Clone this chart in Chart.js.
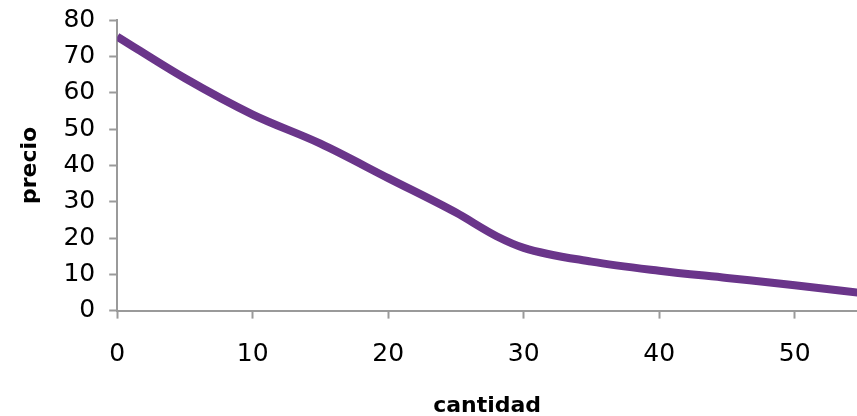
<!DOCTYPE html>
<html>
<head>
<meta charset="utf-8">
<script src="https://cdn.jsdelivr.net/npm/chart.js@4"></script>
<style>
  html, body { margin: 0; padding: 0; background: #fff; }
  #wrap { width: 857px; height: 416px; }
</style>
</head>
<body>
<div id="wrap"><canvas id="chartLine"></canvas></div>
<script>
// Data
const cantidad = [0, 5, 10, 15, 20, 25, 28, 30, 35, 40, 45, 50, 55];
const precio = [75.5, 64, 54, 46, 36.5, 27, 20.5, 17.3, 13.5, 11, 9, 7, 4.8];
const xTicks = [0, 10, 20, 30, 40, 50];
const yTicks = [0, 10, 20, 30, 40, 50, 60, 70, 80];

const purple = "rgb(106, 53, 138)";
const axisGray = "#9a9a9a";

const ctxLine = document.getElementById("chartLine").getContext("2d");

const dataCtxLine = {
  datasets: [
    {
      data: cantidad.map((x, i) => ({ x: x, y: precio[i] })),
      borderColor: purple,
      borderWidth: 8,
      pointRadius: 0,
      tension: 0.4,
      cubicInterpolationMode: "monotone",
      fill: false,
    },
  ],
};

const optionsCtxLine = {
  responsive: true,
  maintainAspectRatio: false,
  animation: false,
  layout: {
    padding: { top: 0, right: 0, left: 14, bottom: 0 },
  },
  scales: {
    x: {
      type: "linear",
      min: 0,
      max: 54.6,
      border: { color: axisGray, width: 2 },
      grid: {
        drawOnChartArea: false,
        drawTicks: true,
        tickLength: 8,
        tickWidth: 2,
        color: axisGray,
      },
      afterBuildTicks: (axis) => {
        axis.ticks = xTicks.map((v) => ({ value: v }));
      },
      ticks: {
        color: "#000",
        padding: 21,
        autoSkip: false,
        maxRotation: 0,
        font: { family: "DejaVu Sans", size: 25 },
      },
      title: {
        display: true,
        text: "cantidad",
        color: "#000",
        padding: { top: 2, bottom: -3 },
        font: { family: "DejaVu Sans", size: 22, weight: "bold" },
      },
    },
    y: {
      type: "linear",
      min: 0,
      max: 80,
      border: { color: axisGray, width: 2 },
      grid: {
        drawOnChartArea: false,
        drawTicks: true,
        tickLength: 8,
        tickWidth: 2,
        color: axisGray,
      },
      afterBuildTicks: (axis) => {
        axis.ticks = yTicks.map((v) => ({ value: v }));
      },
      ticks: {
        color: "#000",
        padding: 14,
        autoSkip: false,
        font: { family: "DejaVu Sans", size: 25, lineHeight: 0.5 },
      },
      title: {
        display: true,
        text: "precio",
        color: "#000",
        padding: { top: 3, bottom: 6 },
        font: { family: "DejaVu Sans", size: 22, weight: "bold" },
      },
    },
  },
  plugins: {
    legend: { display: false },
    tooltip: { enabled: false },
  },
};

new Chart(ctxLine, {
  type: "line",
  data: dataCtxLine,
  options: optionsCtxLine,
});
</script>
</body>
</html>
